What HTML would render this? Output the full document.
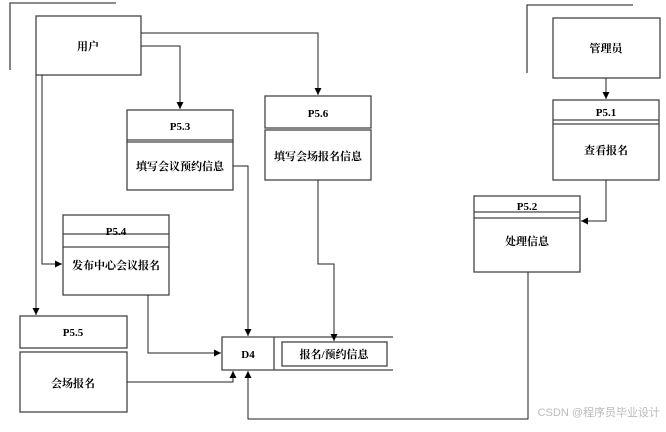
<!DOCTYPE html>
<html><head><meta charset="utf-8"><style>
body{margin:0;background:#fff}
svg text{font-family:"Liberation Serif","Noto Serif CJK SC",serif;font-weight:bold;font-size:11px;fill:#000}
</style></head><body>
<svg width="666" height="427" viewBox="0 0 666 427" xmlns="http://www.w3.org/2000/svg">
<defs><marker id="a" viewBox="0 0 10 10" refX="10" refY="5" markerWidth="7" markerHeight="7" orient="auto"><path d="M0,0L10,5L0,10z" fill="#000"/></marker></defs>
<g fill="none" stroke="#444" stroke-width="1.3">
<path d="M10,70V3H116"/>
<path d="M527,73V5H633"/>
<rect x="36" y="16" width="105" height="59"/>
<rect x="553" y="18" width="107" height="60"/>
<rect x="127" y="110" width="106" height="80"/><path d="M127,140H233M127,142H233"/>
<rect x="265" y="96" width="106" height="32"/><rect x="265" y="130" width="106" height="50"/>
<rect x="63" y="215" width="106" height="80"/><path d="M63,234H169M63,247H169"/>
<rect x="20" y="316" width="107" height="32"/><rect x="20" y="352" width="107" height="60"/>
<rect x="553" y="100" width="106" height="80"/><path d="M553,120H659M553,124H659"/>
<rect x="474" y="196" width="106" height="76"/><path d="M474,212H580M474,218H580"/>
<path d="M393,337H222V370H393M274,337V370"/>
<rect x="282" y="342" width="105" height="24"/>
</g>
<g fill="none" stroke="#222" stroke-width="1">
<path d="M141,33H318V95" marker-end="url(#a)"/>
<path d="M141,46H180V109" marker-end="url(#a)"/>
<path d="M233,166H248V336" marker-end="url(#a)"/>
<path d="M318,180V264H334V341" marker-end="url(#a)"/>
<path d="M36,75V315" marker-end="url(#a)"/>
<path d="M42,75V264H62" marker-end="url(#a)"/>
<path d="M148,295V353H221" marker-end="url(#a)"/>
<path d="M127,382H233V371" marker-end="url(#a)"/>
<path d="M528,272V419H248V371" marker-end="url(#a)"/>
<path d="M606,78V99" marker-end="url(#a)"/>
<path d="M606,180V221H581" marker-end="url(#a)"/>
</g>
<g text-anchor="middle">
<text x="88" y="50">用户</text>
<text x="606" y="52">管理员</text>
<text x="180" y="130">P5.3</text>
<text x="180" y="170">填写会议预约信息</text>
<text x="318" y="117">P5.6</text>
<text x="318" y="160">填写会场报名信息</text>
<text x="116" y="235">P5.4</text>
<text x="116" y="269">发布中心会议报名</text>
<text x="73" y="336">P5.5</text>
<text x="73" y="387">会场报名</text>
<text x="248" y="358">D4</text>
<text x="334" y="358">报名/预约信息</text>
<text x="606" y="116">P5.1</text>
<text x="606" y="154">查看报名</text>
<text x="527" y="210">P5.2</text>
<text x="527" y="245">处理信息</text>
</g>
<text x="660" y="416" text-anchor="end" style="font-family:'Liberation Sans','Noto Sans CJK SC',sans-serif;font-weight:normal;font-size:11px;fill:#bbb">CSDN @程序员毕业设计</text>
</svg>
</body></html>
